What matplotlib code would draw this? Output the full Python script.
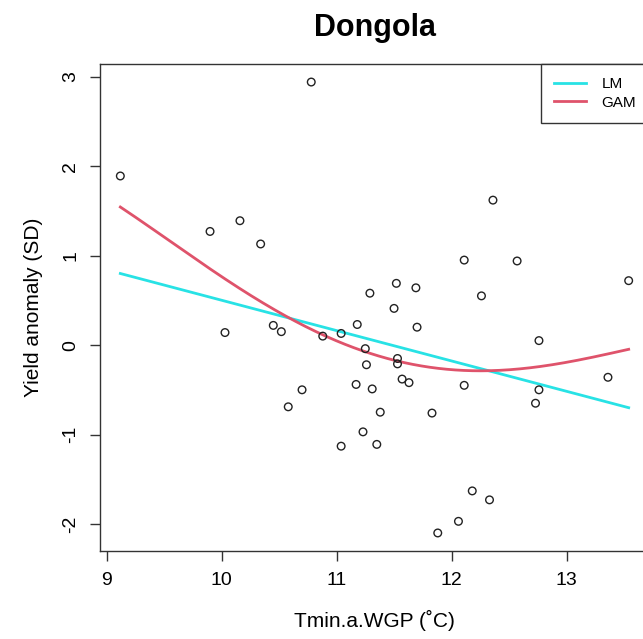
import matplotlib
matplotlib.use("Agg")
import matplotlib.pyplot as plt
import numpy as np

plt.rcParams['font.family'] = ['Liberation Sans', 'DejaVu Sans']
plt.rcParams['axes.unicode_minus'] = False

# Observed minimum temperature anomaly vs. yield anomaly at Dongola
tmin = [9.12, 10.78, 9.90, 10.16, 10.34, 10.03, 10.45, 10.52, 10.88, 11.04,
        11.18, 11.25, 11.26, 11.17, 11.31, 10.70, 10.58, 11.38, 11.23, 11.04,
        11.35, 11.29, 11.52, 11.69, 11.50, 11.70, 11.53, 11.53, 11.57, 11.63,
        11.83, 12.11, 12.36, 12.57, 12.26, 12.11, 12.76, 12.76, 12.73, 13.36,
        13.54, 12.18, 12.33, 12.06, 11.88]
yield_anom = [1.89, 2.94, 1.27, 1.39, 1.13, 0.14, 0.22, 0.15, 0.10, 0.13,
              0.23, -0.04, -0.22, -0.44, -0.49, -0.50, -0.69, -0.75, -0.97, -1.13,
              -1.11, 0.58, 0.69, 0.64, 0.41, 0.20, -0.15, -0.21, -0.38, -0.42,
              -0.76, 0.95, 1.62, 0.94, 0.55, -0.45, 0.05, -0.50, -0.65, -0.36,
              0.72, -1.63, -1.73, -1.97, -2.10]

# Fitted curves
lm_x = [9.12, 13.54]
lm_y = [0.80, -0.70]
gam_x = [9.12, 9.53, 9.90, 10.25, 10.50, 10.69, 11.00, 11.22, 11.57, 11.85,
         12.08, 12.31, 12.55, 12.77, 13.10, 13.54]
gam_y = [1.55, 1.18, 0.83, 0.55, 0.38, 0.24, 0.07, -0.05, -0.20, -0.27,
         -0.30, -0.30, -0.27, -0.22, -0.15, -0.06]

x_ticks = [9, 10, 11, 12, 13]
y_ticks = [-2, -1, 0, 1, 2, 3]

LM_COL = '#28E2E5'
GAM_COL = '#DF536B'

fig = plt.figure(figsize=(6.43, 6.39), dpi=100)
ax = fig.add_axes([100 / 643, 1 - 551 / 639, 549 / 643, 487 / 639])

ax.scatter(tmin, yield_anom, s=30, facecolors='none', edgecolors='#222222',
           linewidths=1.0, zorder=3)

# smooth the GAM knots for display
gx = np.array(gam_x)
gy = np.array(gam_y)
xs = np.linspace(gx[0], gx[-1], 300)
coef = np.polyfit(gx, gy, 4)
ax.plot(lm_x, lm_y, color=LM_COL, lw=2.0, label='LM', zorder=2)
ax.plot(xs, np.polyval(coef, xs), color=GAM_COL, lw=2.0, label='GAM', zorder=2)

# R-style 4% axis padding
def padded(v):
    lo, hi = min(v), max(v)
    d = (hi - lo) * 0.04
    return lo - d, hi + d

ax.set_xlim(*padded(tmin))
ax.set_ylim(*padded(yield_anom))
ax.set_xticks(x_ticks)
ax.set_yticks(y_ticks)
ax.tick_params(direction='out', length=7, width=1, labelsize=14, color='#333333',
               pad=8)
for lbl in ax.get_yticklabels():
    lbl.set_rotation(90)
    lbl.set_va('center')
for sp in ax.spines.values():
    sp.set_color('#333333')
    sp.set_linewidth(1)

ax.set_xlabel('Tmin.a.WGP (˚C)', fontsize=15, labelpad=15)
ax.set_ylabel('Yield anomaly (SD)', fontsize=15, labelpad=14)
ax.set_title('Dongola', fontsize=22, fontweight='bold', pad=20)

leg = ax.legend(loc='upper right', bbox_to_anchor=(1, 1), borderaxespad=0,
                fontsize=11, handlelength=2.1, handletextpad=1.0,
                borderpad=0.85, labelspacing=0.3, fancybox=False,
                framealpha=1, edgecolor='#333333')
leg.get_frame().set_linewidth(1)

fig.savefig('out.png', dpi=100)
